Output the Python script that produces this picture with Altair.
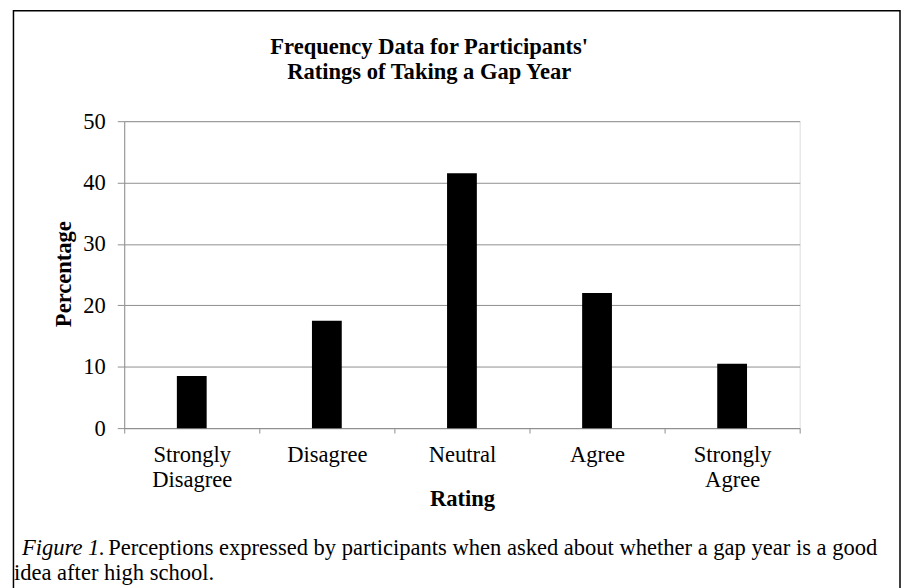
import altair as alt
import pandas as pd

categories = ["Strongly Disagree", "Disagree", "Neutral", "Agree", "Strongly Agree"]
percentages = [8.5, 17.5, 41.5, 22.0, 10.5]
y_ticks = [0, 10, 20, 30, 40, 50]
title_lines = ["Frequency Data for Participants'", "Ratings of Taking a Gap Year"]
caption_italic = "Figure 1."
caption_rest = "Perceptions expressed by participants when asked about whether a gap year is a good"
caption_line2 = "idea after high school."
x_title = "Rating"
y_title = "Percentage"

FONT = "Liberation Serif"
FS = 22.7
GRAY = "#8f8f8f"

df = pd.DataFrame({"Rating": categories, "Percentage": percentages})
one = alt.Data(values=[{"k": 0}])

bars = alt.Chart(df).mark_bar(width=30, color="black").encode(
    x=alt.X("Rating:N", sort=categories,
            scale=alt.Scale(paddingInner=0, paddingOuter=0),
            axis=alt.Axis(title=x_title, titleFont=FONT, titleFontSize=FS, titleFontWeight="bold",
                          titleColor="black", titleBaseline="alphabetic", titleY=78,
                          labelFont=FONT, labelFontSize=FS, labelColor="black", labelAngle=0,
                          labelExpr="split(datum.label, ' ')", labelLineHeight=25,
                          labelPadding=11, labelBaseline="top",
                          tickBand="extent", tickSize=5, tickColor=GRAY, domainColor=GRAY,
                          domainWidth=1, tickWidth=1, grid=False)),
    y=alt.Y("Percentage:Q", scale=alt.Scale(domain=[0, 50], nice=False),
            axis=alt.Axis(title=y_title, titleFont=FONT, titleFontSize=FS, titleFontWeight="bold",
                          titleColor="black", titleBaseline="alphabetic", titleX=-54, titleY=153.5,
                          values=y_ticks, labelFont=FONT, labelFontSize=FS, labelColor="black",
                          labelPadding=12, tickSize=7, tickColor=GRAY, domainColor=GRAY,
                          gridColor=GRAY, gridWidth=1, grid=True)),
)

def txt(s, x, y, style="normal", weight="normal", align="left"):
    return alt.Chart(one).mark_text(
        text=s, font=FONT, fontSize=FS, fontStyle=style, fontWeight=weight,
        align=align, baseline="alphabetic", color="black"
    ).encode(x=alt.value(x), y=alt.value(y))

t1 = txt(title_lines[0], 307, -68, weight="bold", align="center")
t2 = txt(title_lines[1], 307, -42, weight="bold", align="center")
c1 = txt(caption_italic, -103, 437, style="italic")
c2 = txt(caption_rest, -16, 437)
c3 = txt(caption_line2, -111, 462)

border = alt.Chart(one).mark_rect(fill="white", fillOpacity=0, stroke="black", strokeWidth=1.5).encode(
    x=alt.value(-111.5), x2=alt.value(781), y=alt.value(-111.25), y2=alt.value(700)
)

chart = alt.layer(bars, t1, t2, c1, c2, c3, border).properties(
    width=680, height=309,
    autosize=alt.AutoSizeParams(type="none"),
    padding={"left": 117, "top": 112, "right": 102, "bottom": 159},
).configure_view(stroke=None).configure(background="white")

chart.save("out.html", embed_options={"renderer": "svg", "actions": False})
